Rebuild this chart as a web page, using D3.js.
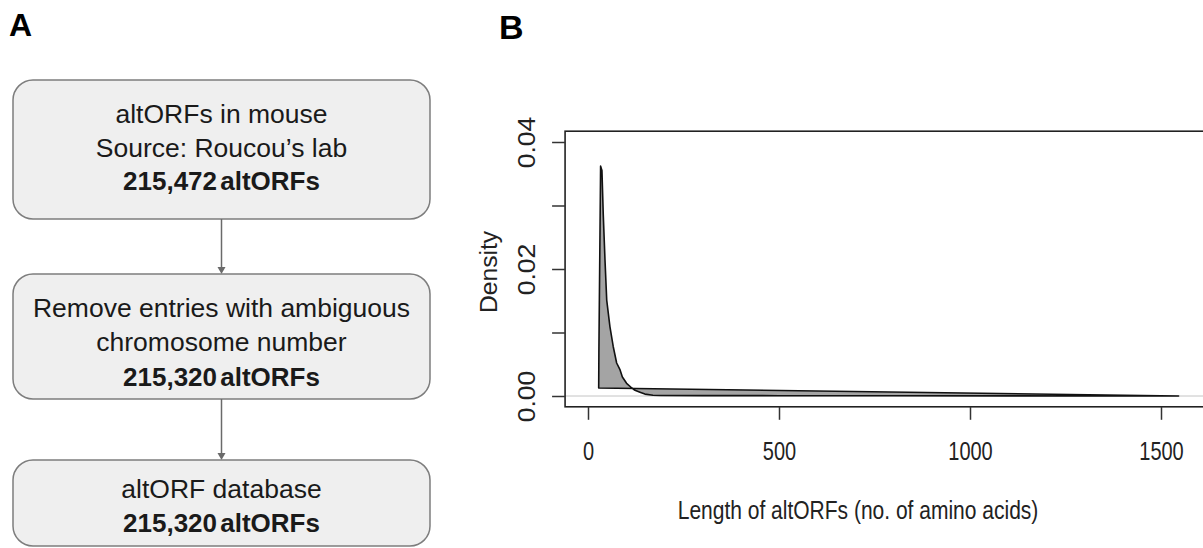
<!DOCTYPE html>
<html>
<head>
<meta charset="utf-8">
<script src="https://cdn.jsdelivr.net/npm/d3@7"></script>
<style>
  body { margin: 0; background: #fff; }
  text { font-family: "Liberation Sans", Arial, sans-serif; }
</style>
</head>
<body>
<div class="chart"></div>
<script>
// flowchart steps (panel A)
var stepLines = [
  ["altORFs in mouse", "Source: Roucou\u2019s lab"],
  ["Remove entries with ambiguous", "chromosome number"],
  ["altORF database"]
];
var stepCounts = ["215,472", "215,320", "215,320"];

// density curve (panel B)
var lengthAA = [28, 28.5, 33, 36.5, 40, 44.5, 49, 57.5, 66, 75, 84, 90, 101, 114, 123, 136, 149, 170, 190, 300, 500, 800, 1100, 1400, 1546];
var densityVals = [0.00126, 0.0068, 0.0362, 0.0355, 0.0285, 0.0214, 0.0151, 0.0109, 0.0078, 0.0052, 0.0041, 0.0030, 0.0020, 0.0013, 0.0009, 0.0006, 0.0003, 0.00012, 0.00008, 0.00006, 0.00005, 0.00003, 0.00002, 0.00001, 0.000005];

var xTicks = [0, 500, 1000, 1500];
var yTicks = [0, 0.01, 0.02, 0.03, 0.04];
var yTickLabels = ["0.00", "", "0.02", "", "0.04"];

var svg = d3.select(".chart")
  .append("svg")
  .attr("width", 1203)
  .attr("height", 548);

// panel letters
svg.append("text").attr("x", 9).attr("y", 36)
  .style("font-size", "32px").style("font-weight", "bold").text("A");
svg.append("text").attr("x", 499).attr("y", 39)
  .style("font-size", "34px").style("font-weight", "bold").text("B");

// ---- panel A ----
var boxTop = [80, 274, 460];
var boxBottom = [219, 399, 546];
var firstBase = [123, 316.7, 498];
var lineGap = [33.5, 34.7, 33.7];
var boxLeft = 13, boxRight = 430, cx = (boxLeft + boxRight) / 2;

var flow = svg.append("g");

stepLines.forEach(function(lines, i) {
  flow.append("rect")
    .attr("x", boxLeft)
    .attr("y", boxTop[i])
    .attr("width", boxRight - boxLeft)
    .attr("height", boxBottom[i] - boxTop[i])
    .attr("rx", 20)
    .attr("fill", "#efefef")
    .attr("stroke", "#7d7d7d")
    .attr("stroke-width", 1.5);

  lines.concat([stepCounts[i] + " altORFs"]).forEach(function(t, j) {
    var bold = j == lines.length;
    flow.append("text")
      .attr("x", cx)
      .attr("y", firstBase[i] + j * lineGap[i])
      .attr("text-anchor", "middle")
      .style("font-size", bold ? "26px" : "26.5px")
      .style("font-weight", bold ? "bold" : "normal")
      .style("word-spacing", bold ? "-4px" : "0px")
      .attr("fill", "#1a1a1a")
      .text(t);
  });

  if (i < stepLines.length - 1) {
    var y0 = boxBottom[i], y1 = boxTop[i + 1];
    flow.append("line")
      .attr("x1", cx).attr("x2", cx)
      .attr("y1", y0).attr("y2", y1 - 6)
      .attr("stroke", "#6a6a6a").attr("stroke-width", 1.5);
    flow.append("path")
      .attr("d", "M" + (cx - 4) + "," + (y1 - 7) + "L" + (cx + 4) + "," + (y1 - 7) + "L" + cx + "," + y1 + "Z")
      .attr("fill", "#6a6a6a");
  }
});

// ---- panel B ----
var x = d3.scaleLinear().domain([0, 1500]).range([588, 1161]);
var y = d3.scaleLinear().domain([0, 0.04]).range([396, 142]);

var plotL = x(-60), plotR = x(1660), plotT = y(0.0417), plotB = y(-0.0017);

var plot = svg.append("g");

// zero line
plot.append("line")
  .attr("x1", plotL).attr("x2", plotR)
  .attr("y1", y(0)).attr("y2", y(0))
  .attr("stroke", "#c4c4c4").attr("stroke-width", 1);

var pts = lengthAA.map(function(d, i) { return [x(d), y(densityVals[i])]; });

plot.append("path")
  .attr("d", d3.line()(pts) + "Z")
  .attr("fill", "#a4a4a4")
  .attr("stroke", "#111")
  .attr("stroke-width", 1.6)
  .attr("stroke-linejoin", "round");

// box
plot.append("rect")
  .attr("x", plotL).attr("y", plotT)
  .attr("width", plotR - plotL).attr("height", plotB - plotT)
  .attr("fill", "none").attr("stroke", "#222").attr("stroke-width", 1.6);

// x axis
var bottomAxis = d3.axisBottom(x).tickValues(xTicks).tickSize(13).tickSizeOuter(0).tickFormat(d3.format("d"));
var gx = plot.append("g")
  .attr("transform", "translate(0," + plotB + ")")
  .call(bottomAxis);
gx.select(".domain").remove();
gx.selectAll("line").attr("stroke", "#333").attr("stroke-width", 1.5);
gx.selectAll("text")
  .attr("y", 0).attr("dy", null)
  .attr("transform", "translate(0,53) scale(1,1.25)")
  .style("font-size", "20px").style("font-family", "Liberation Sans, Arial, sans-serif")
  .attr("fill", "#222");

// y axis
var leftAxis = d3.axisLeft(y).tickValues(yTicks).tickSize(13).tickSizeOuter(0)
  .tickFormat(function(d, i) { return yTickLabels[i]; });
var gy = plot.append("g")
  .attr("transform", "translate(" + plotL + ",0)")
  .call(leftAxis);
gy.select(".domain").remove();
gy.selectAll("line").attr("stroke", "#333").attr("stroke-width", 1.5);
gy.selectAll("text")
  .attr("x", 0).attr("dy", null)
  .attr("text-anchor", "middle")
  .attr("transform", "translate(-30,0) rotate(-90) scale(1.13,1)")
  .style("font-size", "23.5px").style("font-family", "Liberation Sans, Arial, sans-serif")
  .attr("fill", "#222");

// axis titles
plot.append("text")
  .attr("transform", "translate(858,519) scale(1,1.25)")
  .attr("text-anchor", "middle")
  .style("font-size", "21px")
  .attr("fill", "#222")
  .text("Length of altORFs (no. of amino acids)");

plot.append("text")
  .attr("transform", "translate(497,272) rotate(-90) scale(1.05,1)")
  .attr("text-anchor", "middle")
  .style("font-size", "23.5px")
  .attr("fill", "#222")
  .text("Density");
</script>
</body>
</html>
